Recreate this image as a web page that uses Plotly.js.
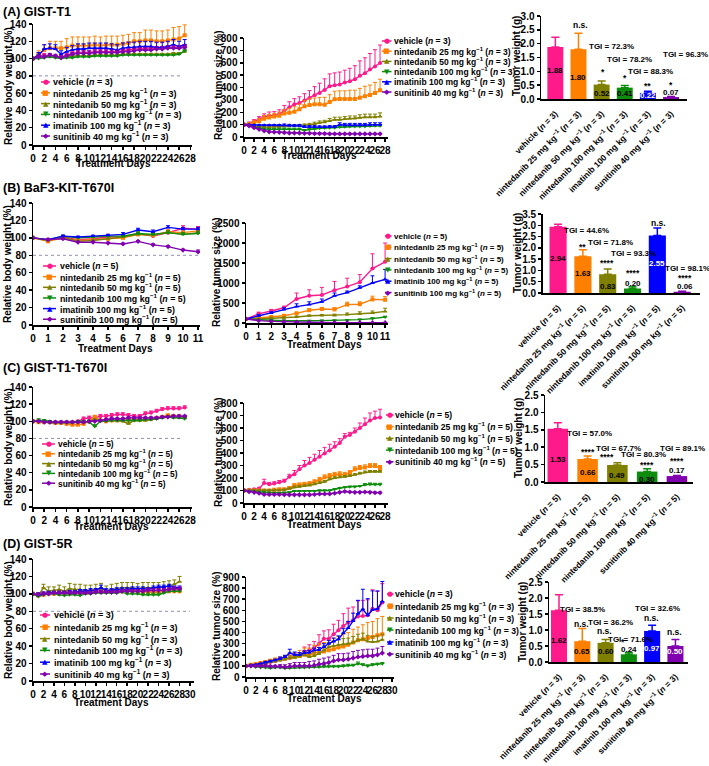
<!DOCTYPE html>
<html><head><meta charset="utf-8">
<script src="https://cdn.plot.ly/plotly-3.0.1.min.js"></script>
<style>html,body{margin:0;padding:0;background:#fff}</style>
</head><body><div id="chart" style="width:709px;height:766px"></div>
<script>
// ---------------- DATA ----------------
const keysA = ['veh','n25','n50','n100','ima','sun'];
const keysB = ['veh','n25','n50','n100','ima','sun'];
const keysC = ['veh','n25','n50','n100','sun'];
const keysD = ['veh','n25','n50','n100','ima','sun'];

const labelsA = ['vehicle (<i>n</i> = 3)','nintedanib 25 mg kg<sup>−1</sup> (<i>n</i> = 3)','nintedanib 50 mg kg<sup>−1</sup> (<i>n</i> = 3)','nintedanib 100 mg kg<sup>−1</sup> (<i>n</i> = 3)','imatinib 100 mg kg<sup>−1</sup> (<i>n</i> = 3)','sunitinib 40 mg kg<sup>−1</sup> (<i>n</i> = 3)'];
const labelsB = ['vehicle (<i>n</i> = 5)','nintedanib 25 mg kg<sup>−1</sup> (<i>n</i> = 5)','nintedanib 50 mg kg<sup>−1</sup> (<i>n</i> = 5)','nintedanib 100 mg kg<sup>−1</sup> (<i>n</i> = 5)','imatinib 100 mg kg<sup>−1</sup> (<i>n</i> = 5)','sunitinib 100 mg kg<sup>−1</sup> (<i>n</i> = 5)'];
const labelsC = ['vehicle (<i>n</i> = 5)','nintedanib 25 mg kg<sup>−1</sup> (<i>n</i> = 5)','nintedanib 50 mg kg<sup>−1</sup> (<i>n</i> = 5)','nintedanib 100 mg kg<sup>−1</sup> (<i>n</i> = 5)','sunitinib 40 mg kg<sup>−1</sup> (<i>n</i> = 5)'];
const labelsD = ['vehicle (<i>n</i> = 3)','nintedanib 25 mg kg<sup>−1</sup> (<i>n</i> = 3)','nintedanib 50 mg kg<sup>−1</sup> (<i>n</i> = 3)','nintedanib 100 mg kg<sup>−1</sup> (<i>n</i> = 3)','imatinib 100 mg kg<sup>−1</sup> (<i>n</i> = 3)','sunitinib 40 mg kg<sup>−1</sup> (<i>n</i> = 3)'];

const days28 = [0,1,2,3,4,5,6,7,8,9,10,11,12,13,14,15,16,17,18,19,20,21,22,23,24,25,26,27];
const days12 = [0,1,2,3,4,5,6,7,8,9,10,11];
const days29 = [0,1,2,3,4,5,6,7,8,9,10,11,12,13,14,15,16,17,18,19,20,21,22,23,24,25,26,27,28];

// (A) GIST-T1 body weight
const bwA_veh = [100,103,104,103,102,102,104,106,107,107,107,108,108,108,108,108,109,110,111,111,112,112,112,112,113,113,113,114];
const bwA_n25 = [100,105,110,112,112,112,113,115,115,115,115,116,115,116,116,116,117,118,120,120,121,121,120,120,121,122,123,127];
const bwA_n50 = [100,101,102,103,102,101,102,103,103,103,103,104,104,104,104,104,105,105,105,105,105,105,105,105,105,106,106,108];
const bwA_n100 = [100,100,101,102,101,100,101,101,102,102,102,103,103,103,103,103,104,104,104,104,104,104,104,104,104,104,105,109];
const bwA_ima = [100,104,111,112,111,105,108,110,111,111,112,112,112,112,111,110,112,113,113,114,114,114,113,113,114,116,114,116];
const bwA_sun = [100,102,102,104,103,101,103,105,106,106,106,107,107,107,107,107,108,108,109,110,110,110,111,111,112,112,112,113];
const ebA_veh = [0,2,2,2,2,2,2,2,2,2,2,2,2,2,2,2,2,2,2,2,2,2,2,2,2,2,2,2];
const ebA_n25 = [0,4,6,8,8,8,10,10,10,10,10,10,10,10,10,10,10,10,10,10,12,12,12,12,12,14,14,12];
const ebA_n50 = [0,1,1,2,1,1,1,1,1,1,1,1,1,1,1,1,1,1,1,1,1,1,1,1,1,1,1,2];
const ebA_n100 = [0,1,1,1,1,1,1,1,1,1,1,1,1,1,1,1,1,1,1,1,1,1,1,1,1,1,1,2];
const ebA_ima = [0,3,5,5,5,4,5,5,6,6,6,6,6,6,6,6,6,6,6,6,6,6,6,6,6,6,6,6];
const ebA_sun = [0,2,2,2,2,2,2,2,3,3,3,3,3,3,3,3,3,3,3,3,3,3,3,3,3,3,3,3];

// (A) tumor size
const tsA_veh = [100,110,125,145,162,172,175,185,215,240,265,275,295,315,337,355,380,410,418,425,440,450,466,495,515,545,570,598];
const tsA_n25 = [100,105,115,128,148,158,165,172,190,195,205,225,248,258,265,265,261,282,305,308,308,308,308,318,330,340,356,377];
const tsA_n50 = [100,95,88,85,80,80,82,82,85,88,90,92,95,100,105,115,120,130,140,140,145,150,150,155,160,160,160,165];
const tsA_n100 = [100,92,80,70,65,62,62,62,62,62,62,62,55,62,65,70,72,75,75,80,82,85,85,85,85,88,90,90];
const tsA_ima = [100,98,96,95,95,95,95,95,95,92,90,90,80,82,82,80,80,82,82,100,95,95,95,95,95,100,100,100];
const tsA_sun = [100,90,75,62,50,42,40,38,35,32,32,32,30,30,28,28,27,25,25,25,25,25,25,25,25,25,25,25];
const etA_veh = [0,10,15,20,25,30,30,35,40,45,45,50,55,60,70,80,90,100,100,100,100,105,110,120,125,130,135,145];
const etA_n25 = [0,10,15,20,25,25,25,30,30,35,40,40,45,50,50,55,60,60,65,65,65,70,70,75,80,80,85,90];
const etA_n50 = [0,5,5,5,5,5,5,5,10,10,10,10,10,10,15,15,15,20,20,20,20,20,20,25,25,25,25,30];
const etA_n100 = [0,5,5,5,5,5,5,10,10,10,10,10,5,10,10,10,10,10,10,10,10,10,10,10,10,10,10,10];
const etA_ima = [0,5,5,5,5,5,5,5,10,10,10,10,10,10,10,10,10,10,10,15,15,15,15,15,15,15,15,15];
const etA_sun = [0,5,5,5,5,5,5,5,5,5,5,5,5,5,5,5,5,5,5,5,5,5,5,5,5,5,5,5];

// (A) tumor weight
const twA = [1.88,1.80,0.52,0.41,0.22,0.07];
const twA_sd = [0.35,0.58,0.13,0.08,0.06,0.02];
const tgiA = ['TGI = 4.2%','TGI = 72.3%','TGI = 78.2%','TGI = 88.3%','TGI = 96.3%'];
const sigA = ['n.s.','*','*','**','*'];

// (B) BaF3-KIT-T670I body weight
const bwB_veh = [100,97,101,98,99,101,101,105,102,106,111,110];
const bwB_n25 = [100,96,100,97,98,99,100,104,103,107,106,108];
const bwB_n50 = [100,97,101,96,97,99,101,104,103,106,104,106];
const bwB_n100 = [100,98,102,100,101,102,102,105,104,106,104,105];
const bwB_ima = [100,98,102,101,102,103,104,109,107,112,110,110];
const bwB_sun = [100,98,99,95,95,94,93,96,92,90,86,84];
const ebB_veh = [0,1,2,2,2,3,3,3,3,3,3,3];
const ebB_n25 = [0,1,1,1,1,1,1,2,2,2,2,2];
const ebB_n50 = [0,1,1,1,1,1,1,2,2,2,2,2];
const ebB_n100 = [0,1,1,1,1,1,1,2,2,2,2,2];
const ebB_ima = [0,1,1,1,1,1,2,2,2,2,2,2];
const ebB_sun = [0,1,1,1,1,1,1,1,1,1,1,2];

// (B) tumor size
const tsB_veh = [100,230,300,380,600,680,700,820,910,1020,1360,1530];
const tsB_n25 = [100,130,150,180,240,320,350,340,460,470,590,580];
const tsB_n50 = [100,100,120,130,150,180,190,190,210,230,250,290];
const tsB_n100 = [100,80,70,60,50,55,60,65,75,85,110,150];
const tsB_ima = [100,180,250,340,410,460,530,680,760,880,1000,1090];
const tsB_sun = [100,60,40,30,20,15,12,10,8,8,8,8];
const etB_veh = [0,40,40,40,150,150,190,220,210,190,370,470];
const etB_n25 = [0,20,20,20,30,40,40,40,60,60,80,80];
const etB_n50 = [0,10,20,20,20,20,20,30,40,50,50,80];
const etB_n100 = [0,10,10,10,10,10,10,10,10,10,20,20];
const etB_ima = [0,30,30,40,70,70,70,70,40,50,180,250];
const etB_sun = [0,5,5,5,5,5,5,5,3,3,3,3];

// (B) tumor weight
const twB = [2.94,1.63,0.83,0.20,2.55,0.06];
const twB_sd = [0.11,0.29,0.23,0.08,0.33,0.02];
const tgiB = ['TGI = 44.6%','TGI = 71.8%','TGI = 93.3%','TGI = 13.3%','TGI = 98.1%'];
const sigB = ['**','****','****','n.s.','****'];

// (C) GIST-T1-T670I body weight
const bwC_veh = [100,100,100,99,99,99,99,99,100,103,104,104,106,106,107,108,108,107,106,106,109,110,112,114,115,115,115,116];
const bwC_n25 = [100,99,99,99,98,98,97,96,96,97,100,105,101,100,101,101,101,102,102,102,102,103,104,105,107,106,106,105];
const bwC_n50 = [100,100,100,98,98,98,98,98,99,99,100,102,101,101,101,101,100,97,101,101,101,102,103,104,106,105,104,104];
const bwC_n100 = [100,101,101,100,99,99,99,99,100,100,99,94,100,100,101,101,101,101,101,101,102,102,103,104,105,104,104,103];
const bwC_sun = [100,100,99,99,99,99,99,99,99,99,100,100,101,102,103,103,103,104,104,104,104,104,104,105,105,106,106,106];
const ebC_veh = [0,1,1,1,1,1,1,1,1,2,2,2,2,2,2,2,2,2,2,2,2,2,2,2,2,2,2,2];
const ebC_n25 = [0,1,1,1,1,1,1,1,1,1,1,2,1,1,1,1,1,1,1,1,1,1,1,1,1,1,1,1];
const ebC_n50 = [0,1,1,1,1,1,1,1,1,1,1,1,1,1,1,1,1,2,1,1,1,1,1,1,1,1,1,1];
const ebC_n100 = [0,2,1,1,1,1,1,1,1,1,1,2,1,1,1,1,1,1,1,1,1,1,1,1,1,1,1,1];
const ebC_sun = [0,1,1,1,1,1,1,1,1,1,1,1,1,1,1,1,1,1,1,1,1,1,1,1,1,1,1,1];

// (C) tumor size
const tsC_veh = [100,105,110,115,160,150,155,165,175,210,230,270,300,320,345,370,395,420,450,480,530,545,570,600,630,660,680,685];
const tsC_n25 = [100,100,100,100,100,100,105,110,110,120,140,145,150,155,170,185,205,215,225,230,225,240,270,280,285,295,295,280];
const tsC_n50 = [100,100,100,100,100,100,100,100,105,115,125,130,135,140,150,160,170,190,200,205,210,215,225,235,245,250,250,250];
const tsC_n100 = [100,95,90,88,85,82,80,80,82,85,95,95,95,95,95,100,100,100,110,120,125,130,130,135,145,150,148,148];
const tsC_sun = [100,90,85,78,68,68,68,68,66,65,65,65,65,65,68,72,72,72,78,85,92,88,85,85,88,85,82,82];
const etC_veh = [0,5,5,10,30,15,15,15,15,20,30,30,40,45,45,50,50,50,40,35,25,20,30,40,50,60,55,65];
const etC_n25 = [0,5,5,5,5,5,5,5,5,10,15,15,15,15,15,20,20,20,20,20,20,20,20,20,20,20,20,20];
const etC_n50 = [0,5,5,5,5,5,5,5,5,5,10,10,10,10,10,10,10,10,10,10,10,10,10,10,10,10,10,10];
const etC_n100 = [0,5,5,5,5,5,5,5,5,5,5,5,5,5,5,5,5,5,5,5,5,5,5,5,10,10,10,10];
const etC_sun = [0,5,5,5,5,5,5,5,5,5,5,5,5,5,5,5,5,5,5,5,5,5,5,5,5,5,5,5];

// (C) tumor weight
const twC = [1.53,0.66,0.49,0.30,0.17];
const twC_sd = [0.17,0.09,0.06,0.08,0.02];
const tgiC = ['TGI = 57.0%','TGI = 67.7%','TGI = 80.3%','TGI = 89.1%'];
const sigC = ['****','****','****','****'];

// (D) GIST-5R body weight
const bwD_veh = [100,99,100,101,101,102,101,102,102,102,102,103,104,103,102,103,103,104,105,104,104,103,103,102,103,104,106,106,105];
const bwD_n25 = [100,98,99,100,100,100,101,101,101,101,101,102,102,102,102,103,103,103,103,103,103,102,102,102,102,103,103,103,103];
const bwD_n50 = [100,98,107,103,104,105,103,106,105,105,104,104,105,106,103,105,106,107,107,107,106,107,107,107,107,108,109,111,114];
const bwD_n100 = [100,97,99,100,100,99,98,99,99,98,100,100,101,101,101,101,101,102,100,100,100,99,99,99,99,101,103,103,103];
const bwD_ima = [100,99,100,101,101,101,101,102,102,103,103,104,104,107,104,104,105,105,105,106,106,106,105,107,108,108,109,107,107];
const bwD_sun = [100,99,100,100,101,101,101,101,101,101,101,101,102,102,102,102,102,103,103,103,103,103,104,104,104,104,105,106,106];
const ebD_veh = [0,2,2,2,2,2,2,2,2,2,2,2,2,2,2,2,2,2,2,2,2,2,2,2,2,2,2,2,2];
const ebD_n25 = [0,2,2,2,2,2,2,2,2,2,2,2,2,2,2,2,2,2,2,2,2,2,2,2,2,2,2,2,2];
const ebD_n50 = [0,3,4,5,4,5,5,6,6,6,6,6,6,6,6,6,6,6,6,6,6,6,6,6,6,6,6,5,6];
const ebD_n100 = [0,3,2,2,2,2,2,3,3,3,2,2,2,2,2,2,2,2,2,2,2,2,2,2,2,2,2,2,2];
const ebD_ima = [0,2,2,2,2,2,2,2,2,2,2,2,2,3,2,2,2,2,2,2,2,2,2,2,2,2,2,2,2];
const ebD_sun = [0,2,2,2,2,2,2,2,2,2,2,2,2,2,2,2,2,2,2,2,2,2,2,2,2,2,2,2,2];

// (D) tumor size
const tsD_veh = [100,105,110,115,125,135,145,155,165,170,180,190,230,240,260,300,345,345,385,420,460,490,510,545,550,555,615,600,670];
const tsD_n25 = [100,110,115,125,135,145,155,160,165,175,180,190,200,200,215,220,230,240,250,265,275,290,310,330,340,350,360,375,385];
const tsD_n50 = [100,105,110,115,120,135,140,150,160,170,175,185,200,180,190,210,240,270,280,290,295,300,310,330,340,320,315,320,335];
const tsD_n100 = [100,95,90,85,85,80,85,85,78,80,85,85,85,88,90,90,95,95,95,95,100,105,105,120,110,100,110,115,120];
const tsD_ima = [100,105,110,120,130,140,150,165,180,215,200,200,215,220,240,245,270,300,320,340,395,440,505,570,610,555,605,615,680];
const tsD_sun = [100,100,100,100,100,95,95,95,90,95,100,100,100,100,105,115,120,130,145,155,155,160,170,180,185,190,190,200,215];
const etD_veh = [0,10,10,10,15,20,20,20,20,25,30,30,40,50,60,80,70,80,90,90,110,130,120,140,140,140,170,170,170];
const etD_n25 = [0,10,10,10,10,15,15,20,30,40,40,50,60,60,70,80,80,90,100,100,110,110,120,120,130,140,140,150,160];
const etD_n50 = [0,5,5,5,10,10,10,15,15,20,20,25,30,30,30,35,40,40,45,50,50,50,55,55,55,55,50,50,50];
const etD_n100 = [0,5,5,5,5,5,5,5,5,10,10,10,10,10,10,10,10,10,10,10,10,10,10,15,10,10,10,10,10];
const etD_ima = [0,5,5,5,10,10,10,15,15,35,25,20,20,20,20,20,30,30,30,30,40,60,70,120,180,150,170,160,180];
const etD_sun = [0,5,5,5,10,10,10,15,20,25,30,30,30,40,40,45,50,50,50,55,55,55,60,60,60,60,60,60,60];

// (D) tumor weight
const twD = [1.62,0.65,0.60,0.24,0.97,0.50];
const twD_sd = [0.48,0.40,0.10,0.06,0.18,0.20];
const tgiD = ['TGI = 38.5%','TGI = 36.2%','TGI = 71.6%','TGI = 32.6%','TGI = 60.0%'];
const sigD = ['n.s.','n.s.','*','n.s.','n.s.'];

const panelTitles = ['(A) GIST-T1','(B) BaF3-KIT-T670I','(C) GIST-T1-T670I','(D) GIST-5R'];

// ---------------- STYLE ----------------
const W = 709, H = 766;
const FONT = '"Liberation Sans", Arial, sans-serif';
const COL = {veh:'#FF1A8C', n25:'#FF8000', n50:'#808000', n100:'#0E8C0E', ima:'#0000FF', sun:'#8000B0'};
const SYM = {veh:'circle', n25:'square', n50:'triangle-up', n100:'triangle-down', ima:'triangle-up', sun:'diamond'};
const GLYPH = {'circle':'●','square':'■','triangle-up':'▲','triangle-down':'▼','diamond':'◆'};

const layout = {
  width:W, height:H, margin:{l:0,r:0,t:0,b:0}, showlegend:false, barmode:'overlay',
  paper_bgcolor:'#ffffff', plot_bgcolor:'rgba(0,0,0,0)',
  font:{family:FONT, size:10, color:'#000', weight:'bold'},
  shapes:[], annotations:[]
};
const traces = [];
const sfx = i => i === 1 ? '' : String(i);
const PX = x => x / W, PY = y => 1 - y / H;

function axes(i, xpx, ypx, xr, yr, xo, yo) {
  const base = {showline:true, linewidth:1.5, linecolor:'#000', ticks:'outside', ticklen:3, tickwidth:1.5,
    tickcolor:'#000', showgrid:false, zeroline:false, fixedrange:true,
    tickfont:{family:FONT, size:10, weight:'bold', color:'#000'}};
  layout['xaxis' + sfx(i)] = Object.assign({}, base, {domain:[PX(xpx[0]), PX(xpx[1])], range:xr, anchor:'y' + sfx(i), tickangle:0}, xo || {});
  layout['yaxis' + sfx(i)] = Object.assign({}, base, {domain:[PY(ypx[1]), PY(ypx[0])], range:yr, anchor:'x' + sfx(i)}, yo || {});
}

function lines(i, days, keys, ys, es) {
  keys.forEach((k, j) => {
    traces.push({type:'scatter', mode:'lines+markers', x:days, y:ys[j], xaxis:'x' + sfx(i), yaxis:'y' + sfx(i),
      line:{color:COL[k], width:1.4}, marker:{color:COL[k], size:4, symbol:SYM[k]},
      error_y:{type:'data', symmetric:false, array:es[j], arrayminus:es[j].map(() => 0), color:COL[k], thickness:1, width:2},
      hoverinfo:'skip'});
  });
}

function legend(keys, labels, x0, x1, xt, y0, dy, fs) {
  keys.forEach((k, j) => {
    const y = y0 + j * dy;
    layout.shapes.push({type:'line', xref:'paper', yref:'paper', x0:PX(x0), x1:PX(x1), y0:PY(y), y1:PY(y), line:{color:COL[k], width:1.5}});
    layout.annotations.push({xref:'paper', yref:'paper', x:PX((x0 + x1) / 2), y:PY(y), text:GLYPH[SYM[k]], showarrow:false,
      font:{family:'DejaVu Sans', size:7, color:COL[k]}, xanchor:'center', yanchor:'middle'});
    layout.annotations.push({xref:'paper', yref:'paper', x:PX(xt), y:PY(y), text:labels[j], showarrow:false,
      font:{family:FONT, size:fs, weight:'bold', color:'#000'}, xanchor:'left', yanchor:'middle', borderpad:0});
  });
}

function refLine(i, xEnd) {
  layout.shapes.push({type:'line', xref:'x' + sfx(i), yref:'y' + sfx(i), x0:0, x1:xEnd, y0:80, y1:80,
    line:{color:'#8f8fb0', width:1, dash:'dot'}});
}

function bars(i, keys, vals, sds, barW) {
  keys.forEach((k, j) => {
    traces.push({type:'bar', x:[j], y:[vals[j]], width:barW, xaxis:'x' + sfx(i), yaxis:'y' + sfx(i),
      marker:{color:COL[k], line:{width:0}},
      error_y:{type:'data', symmetric:false, array:[sds[j]], arrayminus:[0], color:COL[k], thickness:1.5, width:4},
      hoverinfo:'skip'});
  });
}

function dataText(i, items, fs) {
  items.forEach(([t, x, y, c]) => {
    layout.annotations.push({xref:'x' + sfx(i), yref:'y' + sfx(i), x:x, y:y, text:t, showarrow:false,
      font:{family:FONT, size:fs, weight:'bold', color:c || '#000'}, xanchor:'center', yanchor:'middle', borderpad:0});
  });
}

function paperText(t, x, y, fs, opts) {
  layout.annotations.push(Object.assign({xref:'paper', yref:'paper', x:PX(x), y:PY(y), text:t, showarrow:false,
    font:{family:FONT, size:fs, weight:'bold', color:'#000'}, xanchor:'center', yanchor:'middle', borderpad:0}, opts || {}));
}

const catAxis = (labels) => ({tickvals:labels.map((_, j) => j), ticktext:labels, tickangle:-45, ticks:'',
  ticklabelstandoff:5, tickfont:{family:FONT, size:8.5, weight:'bold', color:'#000'}});
const barY = {dtick:0.5, tickformat:'.1f'};

// ---------------- ROW A ----------------
axes(1, [33,192], [24,145], [0,28.3], [0,140], {dtick:2}, {dtick:20});
lines(1, days28, keysA, [bwA_veh,bwA_n25,bwA_n50,bwA_n100,bwA_ima,bwA_sun], [ebA_veh,ebA_n25,ebA_n50,ebA_n100,ebA_ima,ebA_sun]);
refLine(1, 26.6);
legend(keysA, labelsA, 41, 50, 52, 82, 10.8, 9);

axes(2, [244,387.6], [38,137], [0,28.5], [0,800], {dtick:2}, {dtick:100});
lines(2, days28, keysA, [tsA_veh,tsA_n25,tsA_n50,tsA_n100,tsA_ima,tsA_sun], [etA_veh,etA_n25,etA_n50,etA_n100,etA_ima,etA_sun]);
legend(keysA, labelsA, 382, 391.5, 392.5, 41, 10.2, 8.5);

axes(3, [541,687], [16,99], [-0.62,5.69], [0,3.0], catAxis(labelsA), barY);
bars(3, keysA, twA, twA_sd, 0.69);
dataText(3, [[twA[0].toFixed(2),0,1.02],[twA[1].toFixed(2),1,0.78],[twA[2].toFixed(2),2,0.2],[twA[3].toFixed(2),3,0.2],[twA[4].toFixed(2),4,0.12,'#fff'],[twA[5].toFixed(2),5,0.24]], 8);
dataText(3, [[tgiA[0],1.1,3.01],[tgiA[1],2.43,1.89],[tgiA[2],3.19,1.43],[tgiA[3],4.13,0.99],[tgiA[4],5.63,1.61]], 8);
dataText(3, [[sigA[0],1.07,2.67],[sigA[1],2.04,0.99],[sigA[2],3.03,0.75],[sigA[3],4.0,0.48],[sigA[4],5.0,0.52]], 8.5);

// ---------------- ROW B ----------------
axes(4, [33,200], [203,325], [0,11.13], [0,140], {dtick:1}, {dtick:20});
lines(4, days12, keysB, [bwB_veh,bwB_n25,bwB_n50,bwB_n100,bwB_ima,bwB_sun], [ebB_veh,ebB_n25,ebB_n50,ebB_n100,ebB_ima,ebB_sun]);
refLine(4, 11);
legend(keysB, labelsB, 43, 56, 59, 266, 10.65, 8.8);

axes(5, [246,388], [223,323], [0,11.23], [0,2500], {dtick:1}, {dtick:500});
lines(5, days12, keysB, [tsB_veh,tsB_n25,tsB_n50,tsB_n100,tsB_ima,tsB_sun], [etB_veh,etB_n25,etB_n50,etB_n100,etB_ima,etB_sun]);
legend(keysB, labelsB, 385, 391.5, 392.5, 236, 11.3, 8);

axes(6, [542.7,700], [214,293], [-0.62,5.72], [0,3.5], catAxis(labelsB), barY);
bars(6, keysB, twB, twB_sd, 0.69);
dataText(6, [[twB[0].toFixed(2),0,1.54],[twB[1].toFixed(2),1,0.87],[twB[2].toFixed(2),2,0.31],[twB[3].toFixed(2),3,0.43],[twB[4].toFixed(2),4,1.31,'#fff'],[twB[5].toFixed(2),5.1,0.31]], 8);
dataText(6, [[tgiB[0],1.13,2.75],[tgiB[1],2.1,2.23],[tgiB[2],3.04,1.73],[tgiB[3],4.15,3.6],[tgiB[4],5.21,1.09]], 8);
dataText(6, [[sigB[0],0.97,2.02],[sigB[1],1.96,1.31],[sigB[2],3.0,0.87],[sigB[3],4.03,3.09],[sigB[4],5.12,0.65]], 8.5);

// ---------------- ROW C ----------------
axes(7, [33,192], [387,507], [0,28.3], [0,140], {dtick:2}, {dtick:20});
lines(7, days28, keysC, [bwC_veh,bwC_n25,bwC_n50,bwC_n100,bwC_sun], [ebC_veh,ebC_n25,ebC_n50,ebC_n100,ebC_sun]);
refLine(7, 26.2);
legend(keysC, labelsC, 42, 55, 57, 444, 9.8, 8.4);

axes(8, [244,387.6], [403,503], [0,28.5], [0,800], {dtick:2}, {dtick:100});
lines(8, days28, keysC, [tsC_veh,tsC_n25,tsC_n50,tsC_n100,tsC_sun], [etC_veh,etC_n25,etC_n50,etC_n100,etC_sun]);
legend(keysC, labelsC, 386, 393.5, 394, 415, 11.7, 8.6);

axes(9, [545,693], [395,482], [-0.43,4.54], [0,2.5], catAxis(labelsC), barY);
bars(9, keysC, twC, twC_sd, 0.69);
dataText(9, [[twC[0].toFixed(2),0,0.65],[twC[1].toFixed(2),1,0.27],[twC[2].toFixed(2),2,0.2],[twC[3].toFixed(2),3,0.08],[twC[4].toFixed(2),4,0.32]], 8);
dataText(9, [[tgiC[0],1.08,1.38],[tgiC[1],2.03,0.97],[tgiC[2],2.87,0.78],[tgiC[3],4.2,0.95]], 8);
dataText(9, [[sigC[0],1.03,0.87],[sigC[1],1.64,0.71],[sigC[2],2.98,0.49],[sigC[3],4.01,0.6]], 8.5);

// ---------------- ROW D ----------------
axes(10, [33,194.2], [559,681], [0,30.8], [0,140], {dtick:2}, {dtick:20});
lines(10, days29, keysD, [bwD_veh,bwD_n25,bwD_n50,bwD_n100,bwD_ima,bwD_sun], [ebD_veh,ebD_n25,ebD_n50,ebD_n100,ebD_ima,ebD_sun]);
refLine(10, 30);
legend(keysD, labelsD, 40, 50, 53, 615, 11.8, 9);

axes(11, [246,393.5], [577,677], [0,30.3], [0,900], {dtick:2}, {dtick:100});
lines(11, days29, keysD, [tsD_veh,tsD_n25,tsD_n50,tsD_n100,tsD_ima,tsD_sun], [etD_veh,etD_n25,etD_n50,etD_n100,etD_ima,etD_sun]);
legend(keysD, labelsD, 387, 393.5, 394, 594, 12, 8.7);

axes(12, [549,688], [582,662], [-0.43,5.54], [0,2.5], catAxis(labelsD), barY);
bars(12, keysD, twD, twD_sd, 0.69);
dataText(12, [[twD[0].toFixed(2),0,0.67],[twD[1].toFixed(2),1,0.32],[twD[2].toFixed(2),2,0.32],[twD[3].toFixed(2),3,0.38],[twD[4].toFixed(2),4,0.41,'#fff'],[twD[5].toFixed(2),5,0.32,'#fff']], 8);
dataText(12, [[tgiD[0],1.02,1.64],[tgiD[1],2.19,1.23],[tgiD[2],3.05,0.71],[tgiD[3],4.24,1.68],[tgiD[4],5.74,1.18]], 8);
dataText(12, [[sigD[0],0.97,1.19],[sigD[1],1.97,0.97],[sigD[2],2.76,0.62],[sigD[3],3.98,1.38],[sigD[4],4.98,0.93]], 8.5);

// ---------------- TITLES ----------------
const bwT = 'Relative body weight (%)', tsT = 'Relative tumor size (%)', twT = 'Tumor weight (g)', tdT = 'Treatment Days';
[[8,86],[8,264],[8,447],[8,620]].forEach(([x,y]) => paperText(bwT, x, y, 10, {textangle:-90}));
[[218,86],[216,273],[218,453],[216,627]].forEach(([x,y]) => paperText(tsT, x, y, 10, {textangle:-90}));
[[516,56],[518,253],[518,438],[522,622]].forEach(([x,y]) => paperText(twT, x, y, 10, {textangle:-90}));
[[113,164],[319,155],[115,348],[324,344],[111,526],[324,524],[111,702],[324,698]].forEach(([x,y]) => paperText(tdT, x, y, 10));
[[2,12],[2,188],[2,368],[2,544]].forEach(([x,y], j) => paperText(panelTitles[j], x, y, 12.5, {xanchor:'left'}));

Plotly.newPlot('chart', traces, layout, {staticPlot:true, displayModeBar:false});
</script>
</body></html>
